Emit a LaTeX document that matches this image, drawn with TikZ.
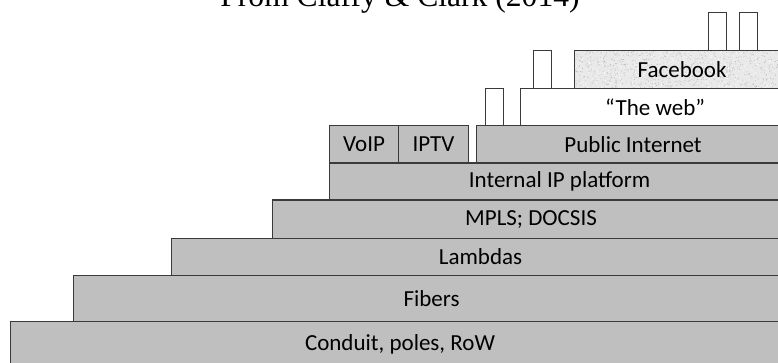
\documentclass[tikz,border=0pt]{standalone}
\usepackage{fontspec}
\setmainfont{Carlito}
\newfontfamily\titlefont{Liberation Serif}
\definecolor{layergray}{HTML}{BFBFBF}
\definecolor{edgegray}{HTML}{3A3A3A}
\definecolor{fbfill}{HTML}{E9E9E9}
\begin{document}
\begin{tikzpicture}[x=1pt,y=-1pt,
  layer/.style={draw=edgegray, fill=layergray, line width=1.1pt, inner sep=0pt,
    anchor=north west, font=\fontsize{23}{26}\selectfont, text=black},
  stack/.style={draw=edgegray, fill=white, line width=1.1pt, inner sep=0pt,
    anchor=north west, minimum width=17.5pt, minimum height=37.5pt},
]
\useasboundingbox (0,0) rectangle (778,363);
\clip (0,0) rectangle (778,363);
\pgfmathsetseed{7}

\node[font=\titlefont\fontsize{31.6}{36}\selectfont, anchor=base] (title) at (400,7) {From Claffy \& Clark (2014)};

\node[layer, minimum width=779pt, minimum height=46pt] (conduit) at (10,320.5) {Conduit, poles, RoW};
\node[layer, minimum width=716pt, minimum height=45.5pt] (fibers) at (73,275) {Fibers};
\node[layer, minimum width=618pt, minimum height=37.5pt] (lambdas) at (171,237.5) {Lambdas};
\node[layer, minimum width=517pt, minimum height=38pt] (mpls) at (272,199.5) {MPLS; DOCSIS};
\node[layer, minimum width=460pt, minimum height=37pt] (ipplat) at (329,162.5) {Internal IP platform};
\node[layer, minimum width=69pt, minimum height=37.5pt] (voip) at (329,125) {VoIP};
\node[layer, minimum width=70pt, minimum height=37.5pt] (iptv) at (398,125) {IPTV};
\node[layer, minimum width=313pt, minimum height=37.5pt] (public) at (476,125) {Public Internet};
\node[layer, fill=white, minimum width=269pt, minimum height=37pt] (web) at (520,88) {\char"201CThe web\char"201D};
\node[layer, fill=fbfill, minimum width=215pt, minimum height=38pt,
  path picture={
    \foreach \i in {1,...,900}{
      \fill[gray!55] ([shift={({215pt*rnd},{-38pt*rnd})}]path picture bounding box.north west) circle (0.45pt);
    }
    \foreach \i in {1,...,500}{
      \fill[white] ([shift={({215pt*rnd},{-38pt*rnd})}]path picture bounding box.north west) circle (0.5pt);
    }
  }] (facebook) at (574,50) {Facebook};

\node[stack, minimum height=37pt] (s1) at (485,88) {};
\node[stack, minimum height=38pt] (s2) at (533,50) {};
\node[stack, minimum height=38pt] (s3) at (708,12) {};
\node[stack, minimum height=38pt] (s4) at (739,12) {};
\end{tikzpicture}
\end{document}
